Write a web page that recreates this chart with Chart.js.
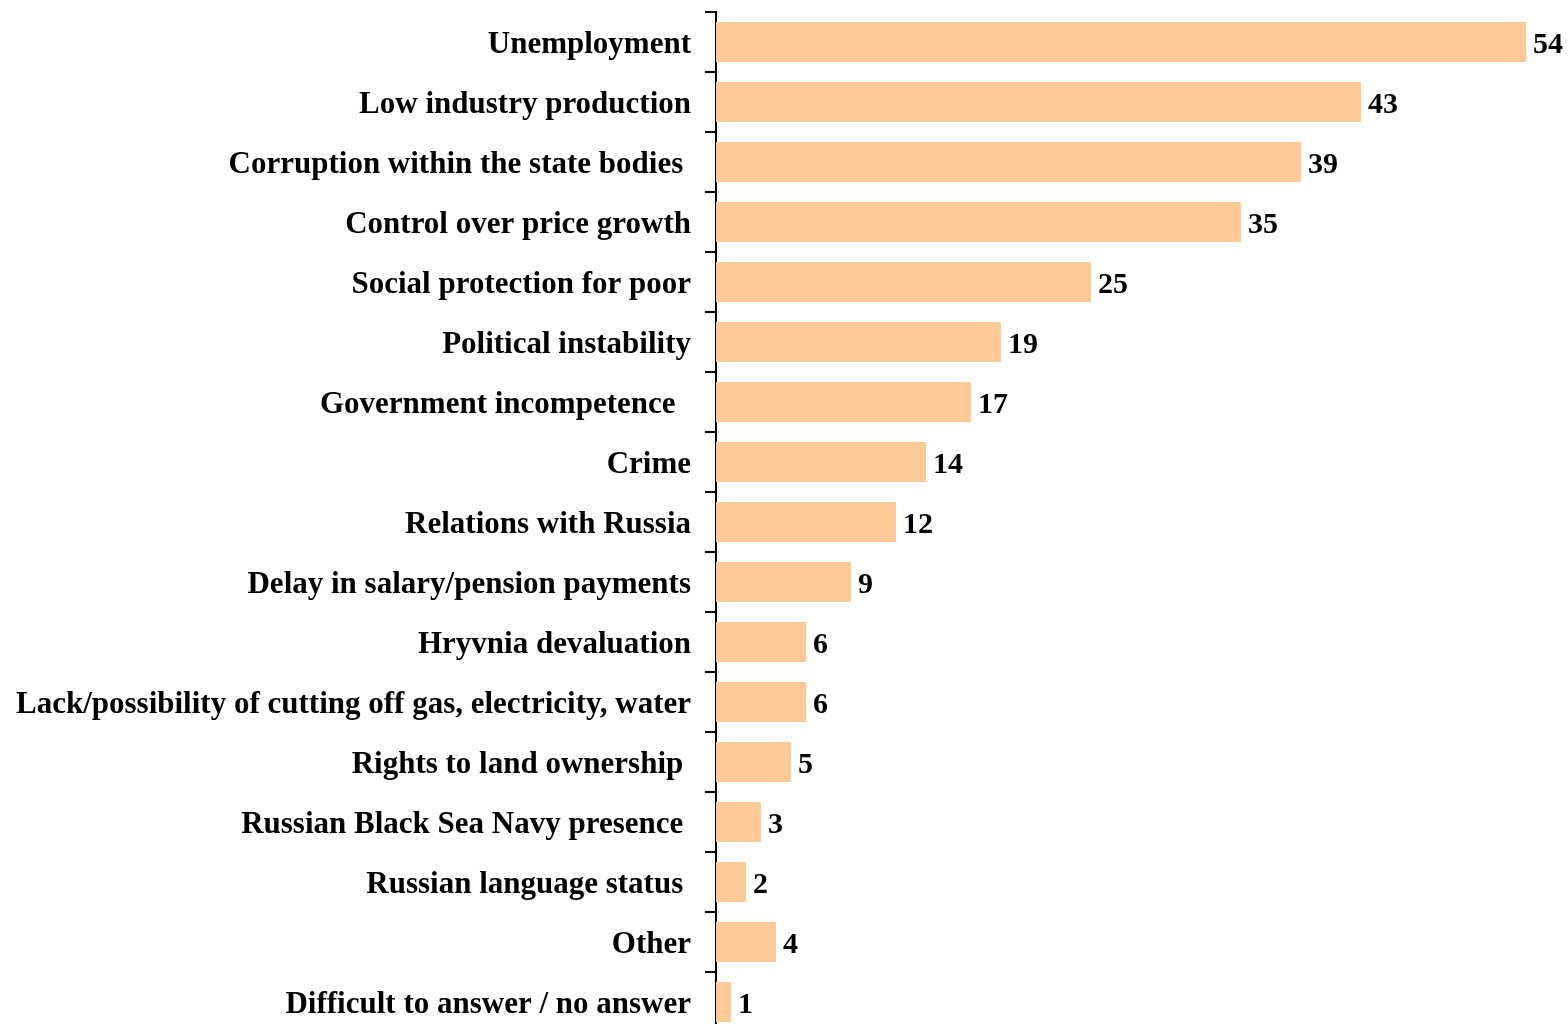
<!DOCTYPE html>
<html>
<head>
<meta charset="utf-8">
<script src="https://cdn.jsdelivr.net/npm/chart.js@4"></script>
<style>
  html, body { margin: 0; padding: 0; background: #fff; overflow: hidden; width: 1568px; height: 1024px; }
  #problemChart { position: absolute; left: 0; top: -28px; }
</style>
</head>
<body>
<canvas id="problemChart" width="1568" height="1100"></canvas>
<script>
// categories and values
const problems = [
    'Unemployment', 'Low industry production', 'Corruption within the state bodies ',
    'Control over price growth', 'Social protection for poor', 'Political instability',
    'Government incompetence  ', 'Crime', 'Relations with Russia',
    'Delay in salary/pension payments', 'Hryvnia devaluation',
    'Lack/possibility of cutting off gas, electricity, water',
    'Rights to land ownership ', 'Russian Black Sea Navy presence ',
    'Russian language status ', 'Other', 'Difficult to answer / no answer'
];
const shares = [54, 43, 39, 35, 25, 19, 17, 14, 12, 9, 6, 6, 5, 3, 2, 4, 1];

const labelFont = { family: '"Liberation Serif", "Times New Roman", serif', size: 31, weight: 'bold' };

// numbers at the bar ends
const valueLabels = {
    id: 'valueLabels',
    afterDatasetsDraw(chart) {
        const c = chart.ctx;
        c.save();
        c.font = 'bold 30px "Liberation Serif", serif';
        c.fillStyle = '#000';
        c.textBaseline = 'middle';
        chart.getDatasetMeta(0).data.forEach((bar, i) => {
            c.fillText(String(shares[i]), bar.x + 7, bar.y + 3);
        });
        c.restore();
    }
};

new Chart(document.getElementById('problemChart'), {
    type: 'bar',
    data: {
        labels: problems,
        datasets: [{
            data: shares,
            backgroundColor: '#FECB98',
            borderWidth: 0,
            barPercentage: 0.67,
            categoryPercentage: 1
        }]
    },
    options: {
        indexAxis: 'y',
        responsive: false,
        animation: false,
        layout: { padding: { top: 40, bottom: 40, right: 12 } },
        plugins: { legend: { display: false }, tooltip: { enabled: false } },
        scales: {
            x: { display: false, min: 0, max: 56 },
            y: {
                afterFit(scale) { scale.width = 716; },
                border: { display: true, color: '#000', width: 2 },
                grid: { offset: true, drawOnChartArea: false, color: '#000', lineWidth: 2, tickLength: 11 },
                ticks: { color: '#000', font: labelFont, padding: 14, autoSkip: false, labelOffset: 3 }
            }
        }
    },
    plugins: [valueLabels]
});
</script>
</body>
</html>
